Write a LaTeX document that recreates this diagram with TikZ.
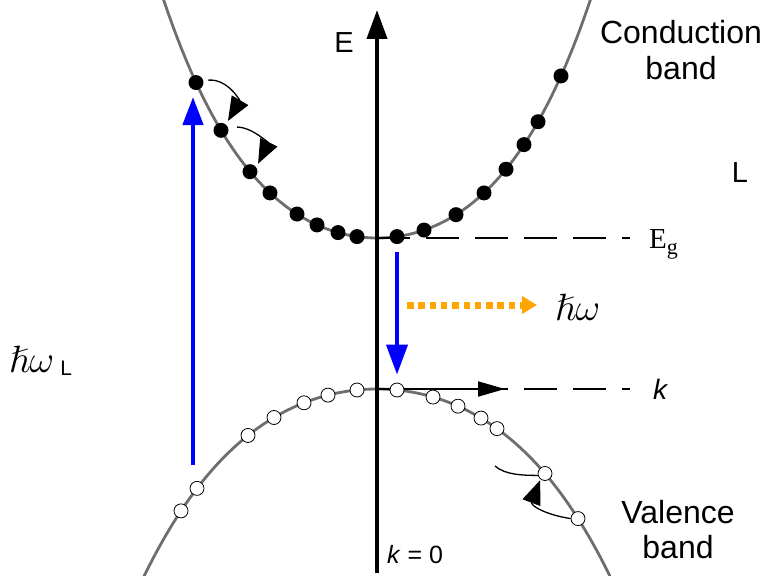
\RequirePackage{fix-cm}
\documentclass[tikz,border=0pt]{standalone}
\usepackage{amsmath,amssymb}
\usepackage{fontspec}
\setsansfont{Liberation Sans}
\newfontfamily\timesfont{Liberation Serif}
\usepackage{tikz}
\usetikzlibrary{arrows.meta,calc}
\usepackage{xcolor}
\definecolor{bandgray}{RGB}{110,110,110}
\definecolor{pumpblue}{RGB}{0,0,255}
\definecolor{photon}{RGB}{255,165,0}

\begin{document}
\begin{tikzpicture}[x=1pt,y=-1pt,
    band/.style={bandgray,line width=2.8pt},
    elec/.style={circle,fill=black,inner sep=0pt,minimum size=15pt},
    hole/.style={circle,draw=black,fill=white,line width=0.8pt,inner sep=0pt,minimum size=14pt},
    level/.style={line width=1.8pt,dash pattern=on 33pt off 16pt},
    hop/.style={line width=1.3pt,shorten <=5pt,shorten >=4pt,-{Triangle[length=24pt,width=19pt]}},
    pump/.style={pumpblue,line width=4.5pt,-{Triangle[length=28pt,width=20pt]}},
    lab/.style={font=\sffamily\fontsize{32}{35}\selectfont,align=center,inner sep=0pt}]
    \useasboundingbox (0,0) rectangle (770,575);

    % Bands
    \draw[band] plot[domain=-2.135:2.135,samples=90] ({377+100*\x},{238-35*(\x)^2-3.8*(\x)^4});
    \draw[band] plot[domain=-2.33:2.33,samples=90] ({377+100*\x},{389+25*(\x)^2+1.75*(\x)^4});

    % Gap and k levels
    \coordinate (eg0) at (377,238);
    \coordinate (eg1) at (630,238);
    \coordinate (k0) at (377,389);
    \coordinate (k1) at (630,389);
    \coordinate (ktip) at (505,389);
    \draw[level] (eg0) -- (eg1);
    \draw[level] (k0) -- (k1);

    % Energy axis
    \coordinate (axbot) at (377,573);
    \coordinate (axtop) at (377,10);
    \draw[line width=4pt,-{Triangle[length=29pt,width=20pt]}] (axbot) -- (axtop);
    \draw[line width=2pt,-{Triangle[length=27pt,width=15pt]}] (k0) -- (ktip);

    % Electrons and holes
    \foreach \t [count=\i] in {-1.81,-1.56,-1.27,-1.07,-0.80,-0.60,-0.39,-0.20,0.20,0.47,0.79,1.07,1.29,1.47,1.61,1.84}
        \node[elec] (e\i) at ({377+100*\t},{238-35*(\t)^2-3.8*(\t)^4}) {};
    \foreach \t [count=\i] in {-1.96,-1.80,-1.29,-1.03,-0.73,-0.49,-0.20,0.20,0.56,0.81,1.04,1.20,1.68,2.01}
        \node[hole] (h\i) at ({377+100*\t},{389+25*(\t)^2+1.75*(\t)^4}) {};

    % Relaxation hops
    \draw[hop] (e1.15) .. controls +(24,-2) and +(14,-24) .. (e2.50);
    \draw[hop,shorten <=9pt] (e2.25) .. controls +(24,0) and +(12,-24) .. (e3.35);
    \coordinate (tail) at (495,466);
    \draw[line width=1.3pt] (tail) .. controls +(10,9) and +(-14,0) .. (h13.195);
    \draw[hop,shorten <=0pt,shorten >=1pt] (h14.180) .. controls +(-26,-4) and +(-10,26) .. (h13.232);

    % Pump and emission
    \coordinate (pumpbot) at (193,465);
    \coordinate (pumptop) at (193,97);
    \draw[pump] (pumpbot) -- (pumptop);
    \draw[pump,line width=4pt,shorten <=8pt,shorten >=8pt,-{Triangle[length=30pt,width=21pt]}] (e9) -- (h8);
    \coordinate (ph0) at (407,305);
    \coordinate (ph1) at (537,305);
    \draw[photon,line width=7pt,dash pattern=on 6.5pt off 4.8pt,-{Triangle[length=15pt,width=17pt]}] (ph0) -- (ph1);

    % Labels
    \node[lab,font=\sffamily\fontsize{29}{34}\selectfont] (elab) at (344,43) {E};
    \node[lab,font=\sffamily\fontsize{32}{36}\selectfont] (cblab) at (681,50) {Conduction\\band};
    \node[lab,font=\sffamily\fontsize{29}{34}\selectfont] (llab) at (740,173) {L};
    \node[inner sep=0pt,anchor=base west,font=\timesfont\fontsize{29}{32}\selectfont] (eglab) at (649,248)
        {E\raisebox{-6pt}{\fontsize{22}{24}\selectfont g}};
    \node[inner sep=0pt,anchor=base west,font=\fontsize{38}{44}\selectfont] (hwlab) at (555,320) {$\hslash\omega$};
    \node[inner sep=0pt,anchor=base west,font=\fontsize{38}{44}\selectfont] (hwllab) at (9,372)
        {$\hslash\omega$\hspace{6pt}\raisebox{-3pt}{\sffamily\fontsize{21}{24}\selectfont L}};
    \node[lab,font=\sffamily\itshape\fontsize{28}{32}\selectfont] (klab) at (660,389) {k};
    \node[inner sep=0pt,anchor=base west,font=\sffamily\fontsize{25}{30}\selectfont] (k0lab) at (387,563) {\textit{k} = 0};
    \node[lab,font=\sffamily\fontsize{32}{35}\selectfont] (vblab) at (678,530) {Valence\\band};
\end{tikzpicture}
\end{document}
